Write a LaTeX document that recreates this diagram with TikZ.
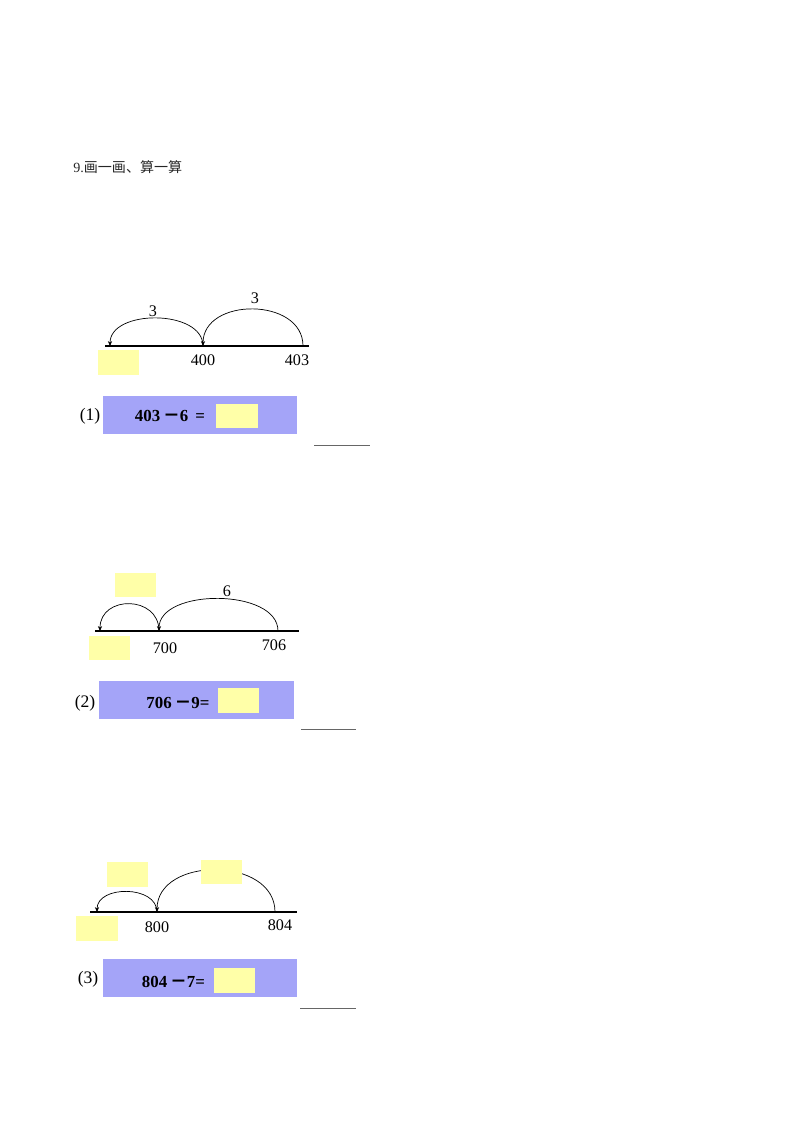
\documentclass[tikz,border=0pt]{standalone}
\usepackage{fontspec}
\setmainfont{Liberation Serif}
\newfontfamily\cjk{Noto Sans CJK SC}
\usetikzlibrary{arrows.meta}
\definecolor{blankyellow}{RGB}{255,255,168}
\definecolor{eqblue}{RGB}{164,164,248}

\begin{document}
\begin{tikzpicture}[x=0.025cm, y=-0.025cm,
    blank/.style={rectangle, fill=blankyellow, inner sep=0pt, minimum width=1.03cm, minimum height=0.62cm},
    eqbox/.style={rectangle, fill=eqblue, inner sep=0pt, minimum width=4.85cm, minimum height=0.95cm},
    numline/.style={line width=1.4pt},
    jump/.style={-{Stealth[length=3.5pt, width=3pt]}, line width=0.5pt},
    num/.style={font=\fontsize{11.5}{13}\selectfont, inner sep=0pt},
    eqtext/.style={font=\fontsize{12}{14}\selectfont\bfseries, inner sep=0pt},
    answer/.style={line width=0.6pt, black!60}
]
\useasboundingbox (0,0) rectangle (800,1132);

\node[anchor=west, font=\fontsize{10}{12}\selectfont, text=black!85, inner sep=0pt] (title) at (73,167) {9.{\cjk 画一画、算一算}};

% (1)
\coordinate (l1a) at (105,346);
\coordinate (l1b) at (309,346);
\coordinate (t1a) at (110,346);
\coordinate (t1b) at (203,346);
\coordinate (t1c) at (303,346);
\draw[numline] (l1a) -- (l1b);
\draw[jump] (t1c) .. controls +(0,-49) and +(0,-49) .. (t1b);
\draw[jump] (t1b) .. controls +(0,-37) and +(0,-37) .. (t1a);
\node[num] (s1a) at (153,311) {3};
\node[num] (s1b) at (255,298) {3};
\node[blank] (b1a) at (118.5,362.5) {};
\node[num] (n1b) at (203,360) {400};
\node[num] (n1c) at (297,360) {403};
\node[num, font=\fontsize{12.5}{14}\selectfont] (k1) at (90,416) {(1)};
\node[eqbox] (e1) at (200,415) {};
\node[eqtext] (q1) at (170,416) {403\,{\cjk －}6 \,=};
\node[blank, minimum height=0.6cm] (a1) at (237,416) {};
\coordinate (u1a) at (314,445);
\coordinate (u1b) at (370,445);
\draw[answer] (u1a) -- (u1b);

% (2)
\coordinate (l2a) at (95,631);
\coordinate (l2b) at (299,631);
\coordinate (t2a) at (100,631);
\coordinate (t2b) at (159,631);
\coordinate (t2c) at (278,631);
\draw[numline] (l2a) -- (l2b);
\draw[jump] (t2c) .. controls +(0,-43) and +(0,-43) .. (t2b);
\draw[jump] (t2b) .. controls +(0,-36) and +(0,-36) .. (t2a);
\node[blank] (b2t) at (135.5,585) {};
\node[num] (s2b) at (227,591) {6};
\node[blank] (b2a) at (109.5,648) {};
\node[num] (n2b) at (165,648) {700};
\node[num] (n2c) at (274,645) {706};
\node[num, font=\fontsize{12.5}{14}\selectfont] (k2) at (85,703) {(2)};
\node[eqbox] (e2) at (196.5,699.5) {};
\node[eqtext] (q2) at (178,703) {706\,{\cjk －}9=};
\node[blank] (a2) at (238.5,700.5) {};
\coordinate (u2a) at (301,729);
\coordinate (u2b) at (356,729);
\draw[answer] (u2a) -- (u2b);

% (3)
\coordinate (l3a) at (90,912);
\coordinate (l3b) at (297,912);
\coordinate (t3a) at (97,912);
\coordinate (t3b) at (157,912);
\coordinate (t3c) at (275,912);
\draw[numline] (l3a) -- (l3b);
\draw[jump] (t3c) .. controls +(0,-56) and +(0,-56) .. (t3b);
\draw[jump] (t3b) .. controls +(0,-27) and +(0,-27) .. (t3a);
\node[blank] (b3t) at (127.5,874.5) {};
\node[blank] (b3u) at (221.5,872) {};
\node[blank] (b3a) at (97,928.5) {};
\node[num] (n3b) at (157,927) {800};
\node[num] (n3c) at (280,925) {804};
\node[num, font=\fontsize{12.5}{14}\selectfont] (k3) at (88,979) {(3)};
\node[eqbox] (e3) at (200,978) {};
\node[eqtext] (q3) at (173.5,982) {804\,{\cjk －}7=};
\node[blank] (a3) at (234.5,980.5) {};
\coordinate (u3a) at (300,1008);
\coordinate (u3b) at (356,1008);
\draw[answer] (u3a) -- (u3b);

\end{tikzpicture}
\end{document}
